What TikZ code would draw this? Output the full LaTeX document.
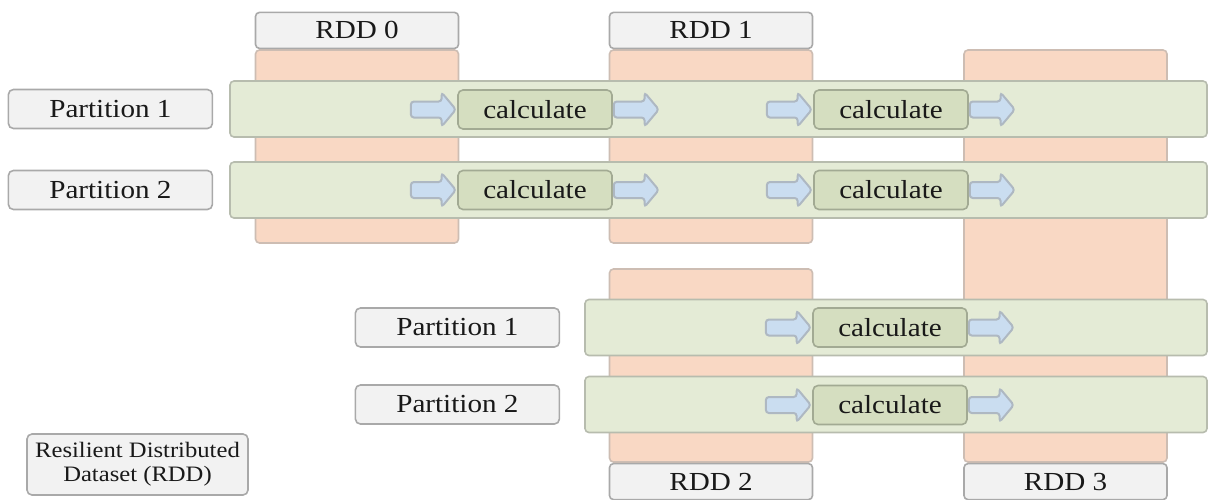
\documentclass[tikz,border=0pt]{standalone}
\usepackage{fontspec}
\setmainfont{Liberation Serif}[FakeStretch=1.12]
\usepackage{tikz}
\usetikzlibrary{shapes,shapes.arrows,positioning}
\definecolor{rddorange}{HTML}{F9D8C4}
\definecolor{rddline}{HTML}{CDBDB3}
\definecolor{partgreen}{HTML}{E4EBD6}
\definecolor{partline}{HTML}{B7BCAE}
\definecolor{calcgreen}{HTML}{D5DEC0}
\definecolor{calcline}{HTML}{A2AA93}
\definecolor{labelgray}{HTML}{F2F2F2}
\definecolor{labelline}{HTML}{A9A9A9}
\definecolor{flowblue}{HTML}{CADDF0}
\definecolor{flowline}{HTML}{AEB8C2}
\tikzset{RDD style/.style={x=1pt,y=-1pt,every node/.style={line width=1.6pt,inner sep=0pt,text=black!90}}}

\begin{document}
\begin{tikzpicture}[RDD style,node distance=0pt,font=\fontsize{26}{30}\selectfont]
	\tikzstyle{column}=[draw=rddline,fill=rddorange,rounded corners=4pt,minimum width=203]
	\tikzstyle{header}=[draw=labelline,fill=labelgray,rounded corners=4pt,minimum width=203,minimum height=36]
	\tikzstyle{part}=[draw=partline,fill=partgreen,rounded corners=4pt,minimum height=56]
	\tikzstyle{partlabel}=[draw=labelline,fill=labelgray,rounded corners=5pt,minimum width=204,minimum height=39]
	\tikzstyle{calc}=[draw=calcline,fill=calcgreen,rounded corners=5pt,minimum width=154,minimum height=39]
	\tikzstyle{flow}=[single arrow,draw=flowline,fill=flowblue,rounded corners=3pt,line width=2pt,
	inner ysep=7pt,single arrow head extend=9pt,single arrow tip angle=100,minimum height=45,minimum width=32]
	
	\useasboundingbox (0,0) rectangle (1210,499);
	
	% RDD columns
	\node[column,minimum height=193] (col0) at (357,146.5) {};
	\node[header] [above=of col0] (rdd0) {RDD 0};
	\node[column,minimum height=193] (col1) at (711,146.5) {};
	\node[header] [above=of col1] (rdd1) {RDD 1};
	\node[column,minimum height=193] (col2) at (711,365.5) {};
	\node[header] [below=of col2] (rdd2) {RDD 2};
	\node[column,minimum height=412] (col3) at (1065.5,256) {};
	\node[header] [below=of col3] (rdd3) {RDD 3};
	
	% partitions
	\node[part,minimum width=977] (row11) at (718.5,109) {};
	\node[part,minimum width=977] (row12) at (718.5,190) {};
	\node[part,minimum width=622] (row21) at (896,327.5) {};
	\node[part,minimum width=622] (row22) at (896,404.5) {};
	\node[partlabel] [left=16pt of row11] (p11) {Partition 1};
	\node[partlabel] [left=16pt of row12] (p12) {Partition 2};
	\node[partlabel] [left=24pt of row21] (p21) {Partition 1};
	\node[partlabel] [left=24pt of row22] (p22) {Partition 2};
	
	% calculations
	\node[calc] (c11) at (535,109.5) {calculate};
	\node[calc] (c12) at (535,190) {calculate};
	\node[calc] (c13) at (891,109.5) {calculate};
	\node[calc] (c14) at (891,190) {calculate};
	\node[calc] (c21) at (890,327.5) {calculate};
	\node[calc] (c22) at (890,405) {calculate};
	\foreach \c in {c11,c12,c13,c14,c21,c22} {
		\node[flow] [left=of \c] (\c-in) {};
		\node[flow] [right=of \c] (\c-out) {};
	}
	
	\node[draw=labelline,fill=labelgray,rounded corners=5pt,minimum width=221,minimum height=61,
	align=center,font=\fontsize{22}{24}\selectfont] (legend) at (137.5,464.5)
	{Resilient Distributed\\Dataset (RDD)};
\end{tikzpicture}
\end{document}
